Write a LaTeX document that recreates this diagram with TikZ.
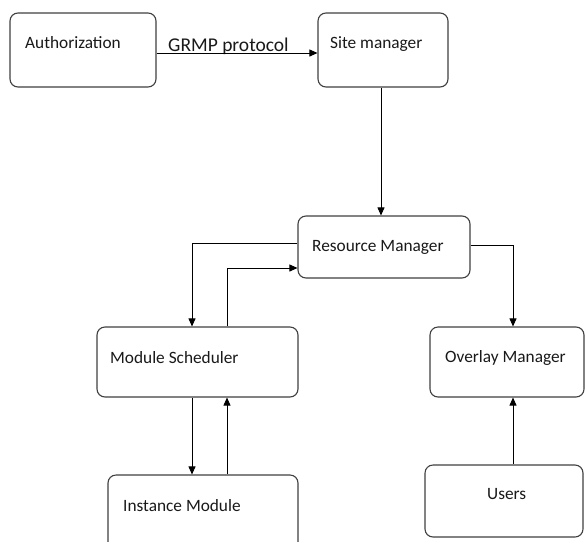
\documentclass[tikz,border=0pt]{standalone}
\usepackage{fontspec}
\setmainfont{Carlito}
\usetikzlibrary{arrows.meta}
\begin{document}
\begin{tikzpicture}[x=1pt,y=-1pt,
  box/.style={draw=black!75, line width=1.1pt, rounded corners=8pt, fill=white},
  txt/.style={anchor=west, inner sep=0pt, font=\fontsize{17.3}{20}\selectfont, text=black!90},
  arr/.style={draw=black, line width=0.8pt, -{Triangle[length=8pt,width=7pt]}},
  ln/.style={draw=black, line width=0.8pt}]
\useasboundingbox (0,0) rectangle (585,541);
% boxes
\node[box, minimum width=146pt, minimum height=74pt] (auth) at (83,50) {};
\node[box, minimum width=130pt, minimum height=74pt] (site) at (383,50) {};
\node[box, minimum width=172pt, minimum height=62pt] (res) at (384,247) {};
\node[box, minimum width=201pt, minimum height=70pt] (sched) at (197.5,362) {};
\node[box, minimum width=190pt, minimum height=80pt] (inst) at (203,515) {};
\node[box, minimum width=154pt, minimum height=70pt] (over) at (507,362) {};
\node[box, minimum width=158pt, minimum height=72pt] (users) at (504,501) {};
% texts
\node[txt] (tauth) at (25,43) {Authorization};
\node[txt] (tsite) at (330,44) {Site manager};
\node[txt] (tres) at (312,247) {Resource Manager};
\node[txt] (tsched) at (110,358) {Module Scheduler};
\node[txt] (tinst) at (123,506) {Instance Module};
\node[txt] (tover) at (445,358) {Overlay Manager};
\node[txt] (tusers) at (487,494) {Users};
\node[txt, anchor=base west, font=\fontsize{19.5}{22}\selectfont] (tgrmp) at (168,51) {GRMP protocol};
% connectors
\draw[arr] (auth.east |- 0,53) -- (site.west |- 0,53);
\draw[arr] (site.south -| 381,0) -- (res.north -| 381,0);
\draw[arr] (res.west |- 0,243) -- (192,243) -- (sched.north -| 192,0);
\draw[arr] (sched.north -| 227,0) -- (227,268) -- (res.west |- 0,268);
\draw[arr] (res.east |- 0,245) -- (513,245) -- (over.north -| 513,0);
\draw[arr] (sched.south -| 192,0) -- (inst.north -| 192,0);
\draw[arr] (inst.north -| 227,0) -- (sched.south -| 227,0);
\draw[arr] (users.north -| 513,0) -- (over.south -| 513,0);
\end{tikzpicture}
\end{document}
